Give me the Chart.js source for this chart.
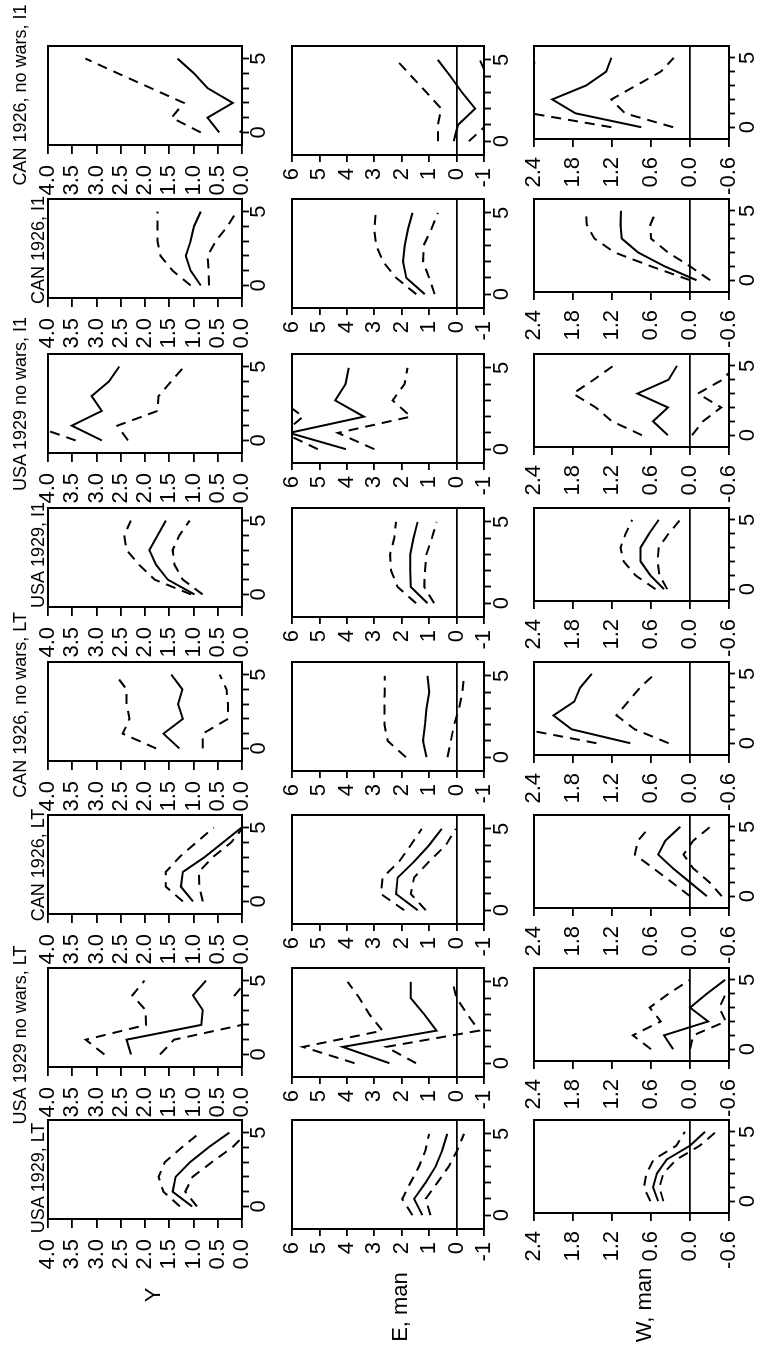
<!DOCTYPE html>
<html>
<head>
<meta charset="utf-8">
<script src="https://cdn.jsdelivr.net/npm/chart.js@4.4.1/dist/chart.umd.min.js"></script>
<style>
  html, body { margin: 0; padding: 0; background: #fff; }
  body { width: 759px; height: 1355px; overflow: hidden; position: relative; }
  #sheet { position: absolute; left: 0; top: 0; width: 1355px; height: 759px;
           transform-origin: 0 0; transform: translateY(1355px) rotate(-90deg);
           font-family: 'Liberation Sans', Arial, Helvetica, sans-serif; color: #000; }
  .panel { position: absolute; }
  .title { position: absolute; font-size: 18px; line-height: 18px; white-space: nowrap; transform: translateX(-50%); }
  .rowlab { position: absolute; font-size: 22px; line-height: 22px; white-space: nowrap; transform: translate(-50%, -50%); }
</style>
</head>
<body>
<div id="sheet"></div>
<script>
const periods = [0, 1, 2, 3, 4, 5];
const xTicks = [0, 1, 2, 3, 4, 5];
const panelTitles = ["USA 1929, LT", "USA 1929 no wars, LT", "CAN 1926, LT", "CAN 1926, no wars, LT",
                     "USA 1929, I1", "USA 1929 no wars, I1", "CAN 1926, I1", "CAN 1926, no wars, I1"];
const rowTitles = ["Y", "E, man", "W, man"];
const yTicks = [0, 0.5, 1, 1.5, 2, 2.5, 3, 3.5, 4];
const eTicks = [-1, 0, 1, 2, 3, 4, 5, 6];
const wTicks = [-0.6, 0, 0.6, 1.2, 1.8, 2.4];

// one list per panel, panels in title order
const yEst = [
  [1.03, 1.43, 1.37, 1.07, 0.69, 0.26],
  [2.29, 2.38, 0.84, 0.81, 1.01, 0.74],
  [1.01, 1.26, 1.22, 0.77, 0.39, 0.01],
  [1.29, 1.62, 1.22, 1.32, 1.23, 1.46],
  [0.98, 1.53, 1.77, 1.91, 1.74, 1.57],
  [2.89, 3.51, 2.89, 3.10, 2.74, 2.53],
  [0.85, 1.06, 1.16, 1.06, 0.99, 0.85],
  [0.47, 0.71, 0.19, 0.71, 0.99, 1.33]
];
const yHi = [
  [1.28, 1.62, 1.72, 1.59, 1.24, 0.86],
  [2.84, 3.22, 1.98, 1.99, 2.26, 2.01],
  [1.22, 1.57, 1.57, 1.29, 0.94, 0.58],
  [1.77, 2.46, 2.32, 2.38, 2.38, 2.61],
  [1.05, 1.80, 2.12, 2.38, 2.43, 2.29],
  [3.43, 4.30, 4.60, 4.70, 4.80, 4.90],
  [1.06, 1.43, 1.68, 1.74, 1.74, 1.74],
  [0.85, 1.45, 1.20, 1.88, 2.56, 3.23]
];
const yLo = [
  [0.93, 1.17, 1.02, 0.62, 0.20, -0.10],
  [1.69, 1.40, 0.00, -0.30, 0.15, -0.10],
  [0.81, 0.88, 0.89, 0.60, 0.22, -0.02],
  [0.81, 0.81, 0.29, 0.29, 0.32, 0.46],
  [0.81, 1.22, 1.39, 1.43, 1.29, 1.08],
  [2.35, 2.57, 1.74, 1.72, 1.46, 1.19],
  [0.68, 0.69, 0.71, 0.54, 0.30, 0.11],
  [0.05, -0.30, -0.80, -0.60, -0.50, -0.40]
];

const eEst = [
  [1.25, 1.55, 1.13, 0.76, 0.52, 0.34],
  [2.45, 4.15, 0.73, 1.18, 1.67, 1.67],
  [1.42, 2.21, 2.15, 1.54, 1.00, 0.54],
  [1.10, 1.22, 1.15, 1.10, 1.00, 1.06],
  [1.06, 1.67, 1.69, 1.69, 1.57, 1.42],
  [4.03, 6.10, 3.38, 4.43, 4.05, 3.93],
  [1.16, 1.83, 1.95, 1.89, 1.77, 1.61],
  [0.10, -0.05, -0.68, -0.20, 0.23, 0.68]
];
const eHi = [
  [1.61, 1.98, 1.68, 1.37, 1.13, 1.00],
  [3.72, 5.60, 2.70, 3.18, 3.54, 3.97],
  [1.91, 2.76, 2.70, 2.09, 1.67, 1.27],
  [1.85, 2.51, 2.63, 2.63, 2.62, 2.62],
  [1.48, 2.15, 2.39, 2.43, 2.27, 2.21],
  [5.06, 6.30, 5.60, 6.40, 6.80, 7.00],
  [1.47, 2.20, 2.68, 2.93, 3.00, 2.95],
  [0.68, 0.68, 0.56, 1.10, 1.65, 2.20]
];
const eLo = [
  [0.95, 1.13, 0.70, 0.28, -0.03, -0.27],
  [1.48, 2.57, -0.82, -0.39, 0.00, 0.15],
  [1.12, 1.67, 1.55, 1.00, 0.39, 0.03],
  [0.33, 0.21, 0.09, -0.09, -0.21, -0.27],
  [0.82, 1.18, 1.15, 1.10, 0.90, 0.73],
  [3.00, 4.33, 1.67, 2.33, 1.90, 1.79],
  [0.80, 1.00, 1.22, 1.20, 0.92, 0.68],
  [-0.45, -1.10, -1.50, -1.30, -1.10, -0.85]
];

const wEst = [
  [0.49, 0.57, 0.51, 0.36, 0.00, -0.23],
  [0.26, 0.40, -0.28, 0.00, -0.26, -0.54],
  [-0.26, 0.00, 0.26, 0.49, 0.38, 0.15],
  [0.92, 1.82, 2.10, 1.78, 1.69, 1.51],
  [0.40, 0.61, 0.76, 0.76, 0.63, 0.48],
  [0.34, 0.57, 0.34, 0.81, 0.33, 0.20],
  [-0.10, 0.39, 0.80, 1.05, 1.07, 1.06],
  [0.75, 1.76, 2.12, 1.60, 1.29, 1.21]
];
const wHi = [
  [0.61, 0.71, 0.67, 0.56, 0.21, 0.08],
  [0.60, 0.88, 0.45, 0.62, 0.33, 0.00],
  [0.00, 0.28, 0.56, 0.85, 0.80, 0.62],
  [1.44, 2.55, 2.90, 2.70, 2.60, 2.50],
  [0.53, 0.84, 1.02, 1.07, 0.99, 0.89],
  [0.74, 1.20, 1.45, 1.80, 1.48, 1.18],
  [0.00, 0.60, 1.16, 1.47, 1.59, 1.60],
  [1.21, 2.45, 2.70, 2.60, 2.50, 2.33]
];
const wLo = [
  [0.41, 0.47, 0.41, 0.21, -0.15, -0.40],
  [0.00, -0.05, -0.55, -0.45, -0.55, -0.75],
  [-0.49, -0.30, -0.05, 0.10, -0.05, -0.31],
  [0.33, 0.85, 1.13, 0.95, 0.77, 0.54],
  [0.35, 0.47, 0.50, 0.48, 0.33, 0.15],
  [-0.03, -0.20, -0.48, -0.12, -0.50, -0.70],
  [-0.31, 0.00, 0.34, 0.60, 0.61, 0.52],
  [0.26, 1.00, 1.21, 0.83, 0.45, 0.25]
];

// layout of the (unrotated) sheet
const FONT = "'Liberation Sans', Arial, Helvetica, sans-serif";
const boxRight = [235, 387, 540, 693, 847, 1001, 1156, 1309];
const titleX = [177, 320, 490, 650, 800, 951, 1105, 1260];
const rows = [
  { est: yEst, hi: yHi, lo: yLo, ticks: yTicks, fmt: v => v.toFixed(1),
    top: 48, bottom: 242, w: 99, ytl: 9, ypad: 11, xtl: 7, xpad: -1, lab: [60, 153] },
  { est: eEst, hi: eHi, lo: eLo, ticks: eTicks, fmt: v => String(v),
    top: 292, bottom: 484, w: 109, ytl: 7, ypad: 6, xtl: 7, xpad: 0, lab: [48, 400] },
  { est: wEst, hi: wHi, lo: wLo, ticks: wTicks, fmt: v => v.toFixed(1),
    top: 534, bottom: 729, w: 93, ytl: 8, ypad: 10, xtl: 6, xpad: 2, lab: [50, 644] }
];

Chart.defaults.font.family = FONT;
Chart.defaults.color = '#000';

const frame = {
  id: 'frame',
  afterDraw(chart) {
    const { ctx, chartArea: a } = chart;
    ctx.save();
    ctx.strokeStyle = '#000';
    ctx.lineWidth = 2;
    ctx.strokeRect(a.left, a.top, a.right - a.left, a.bottom - a.top);
    ctx.restore();
  }
};

function line(values, dashed) {
  return {
    data: periods.map((p, k) => ({ x: p, y: values[k] })),
    borderColor: '#000',
    borderWidth: 2,
    borderDash: dashed ? [10, 7] : [],
    pointRadius: 0,
    tension: 0,
    fill: false,
    clip: 0
  };
}

const sheet = document.getElementById('sheet');

rows.forEach((row, r) => {
  const h = row.bottom - row.top;
  boxRight.forEach((right, c) => {
    const left = right - row.w;
    const cw = row.w + 74, ch = h + 50;
    const div = document.createElement('div');
    div.className = 'panel';
    div.style.left = (left - 70) + 'px';
    div.style.top = (row.top - 16) + 'px';
    const cv = document.createElement('canvas');
    cv.width = cw; cv.height = ch;
    cv.style.width = cw + 'px'; cv.style.height = ch + 'px';
    div.appendChild(cv);
    sheet.appendChild(div);

    new Chart(cv, {
      type: 'line',
      data: { datasets: [line(row.est[c], false), line(row.hi[c], true), line(row.lo[c], true)] },
      options: {
        responsive: false,
        animation: false,
        devicePixelRatio: 1,
        layout: { padding: { top: 16, right: 4, left: 0, bottom: 0 } },
        plugins: { legend: { display: false }, tooltip: { enabled: false } },
        scales: {
          x: {
            type: 'linear', min: -0.85, max: 5.85,
            afterBuildTicks: s => { s.ticks = xTicks.map(v => ({ value: v })); },
            afterFit: s => { s.height = 34; s.paddingLeft = 0; s.paddingRight = 0; },
            ticks: { callback: v => (v === 0 || v === 5) ? String(v) : '', autoSkip: false, maxRotation: 0,
                     padding: row.xpad, color: '#000', font: { size: 22, lineHeight: 1 } },
            grid: { drawOnChartArea: false, color: '#000', tickColor: '#000', tickLength: row.xtl, tickWidth: 1.8 },
            border: { color: '#000', width: 2 }
          },
          y: {
            type: 'linear', min: row.ticks[0], max: row.ticks[row.ticks.length - 1],
            afterBuildTicks: s => { s.ticks = row.ticks.map(v => ({ value: v })); },
            afterFit: s => { s.width = 70; s.paddingTop = 0; s.paddingBottom = 0; },
            ticks: { callback: v => row.fmt(v), autoSkip: false, padding: row.ypad, color: '#000',
                     font: { size: 22, lineHeight: 1 } },
            grid: { color: ctx => (ctx.tick && ctx.tick.value === 0) ? '#000' : 'rgba(0,0,0,0)',
                    lineWidth: 1.8, tickColor: '#000', tickLength: row.ytl, tickWidth: 1.8 },
            border: { color: '#000', width: 2 }
          }
        }
      },
      plugins: [frame]
    });
  });

  const lab = document.createElement('div');
  lab.className = 'rowlab';
  lab.textContent = rowTitles[r];
  lab.style.left = row.lab[0] + 'px';
  lab.style.top = row.lab[1] + 'px';
  sheet.appendChild(lab);
});

panelTitles.forEach((t, c) => {
  const d = document.createElement('div');
  d.className = 'title';
  d.textContent = t;
  d.style.left = titleX[c] + 'px';
  d.style.top = (c % 2 ? 11 : 29) + 'px';
  sheet.appendChild(d);
});
</script>
</body>
</html>
